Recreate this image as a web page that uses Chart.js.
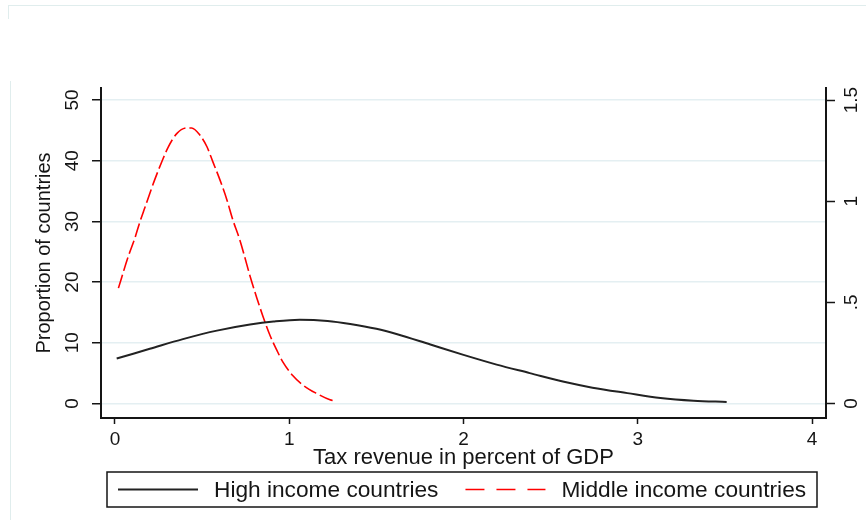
<!DOCTYPE html>
<html>
<head>
<meta charset="utf-8">
<script src="https://cdn.jsdelivr.net/npm/chart.js@4.4.1/dist/chart.umd.min.js"></script>
<style>
  body { margin: 0; background: #fff; }
  #wrap { position: relative; width: 866px; height: 520px; }
  #graph { position: absolute; left: 0; top: 0; }
  .frame { position: absolute; background: #e0eded; }
</style>
</head>
<body>
<div id="wrap">
  <div class="frame" style="left:8px;top:5px;width:858px;height:1px"></div>
  <div class="frame" style="left:8px;top:5px;width:1px;height:14px"></div>
  <div class="frame" style="left:10px;top:81px;width:1px;height:439px"></div>
  <canvas id="graph" width="866" height="520"></canvas>
</div>
<script>
const graph = document.getElementById("graph");
const ctx = graph.getContext("2d");

// kernel density curves
const xHigh = [0.01, 0.2, 0.39, 0.585, 0.775, 0.91, 1.06, 1.22, 1.35, 1.5, 1.62, 1.81, 2.0, 2.19, 2.38, 2.57, 2.74, 2.94, 3.13, 3.32, 3.51];
const yHigh = [7.4, 9.0, 10.6, 12.0, 13.0, 13.5, 13.8, 13.6, 13.1, 12.3, 11.4, 9.7, 8.0, 6.4, 5.0, 3.6, 2.6, 1.7, 0.9, 0.45, 0.25];

const xMiddle = [0.02, 0.075, 0.115, 0.143, 0.172, 0.2, 0.23, 0.27, 0.305, 0.356, 0.413, 0.44, 0.488, 0.528, 0.562, 0.603, 0.643, 0.677, 0.717, 0.746, 0.775, 0.815, 0.85, 0.89, 0.93, 0.964, 1.02, 1.08, 1.16, 1.234, 1.27];
const yMiddle = [19.0, 24.1, 27.3, 29.9, 32.3, 34.6, 37.0, 39.9, 42.2, 44.5, 45.4, 45.4, 44.2, 42.3, 39.8, 36.8, 33.5, 30.2, 26.9, 24.0, 21.0, 17.3, 14.3, 11.2, 8.7, 6.8, 4.6, 3.0, 1.6, 0.6, 0.35];

const seriesNames = ["High income countries", "Middle income countries"];

const xTicks = [0, 1, 2, 3, 4];
const leftTicks = [0, 10, 20, 30, 40, 50];
const rightTicks = [0, 0.5, 1, 1.5];
const rightTickLabels = ["0", ".5", "1", "1.5"];

const FONT = '"Liberation Sans", Arial, sans-serif';
const INK = "#151515";

const toPoints = (xs, ys) => xs.map((x, i) => ({ x: x, y: ys[i] }));
const fixTicks = (values) => (scale) => {
  scale.ticks = values.map((v) => ({ value: v }));
};

// y tick labels are rotated in the original, so draw them by hand
const rotatedTicks = {
  id: "rotatedTicks",
  afterDraw(chart) {
    const c = chart.ctx;
    const sets = [
      [chart.scales.y, leftTicks, leftTicks.map(String), chart.chartArea.left - 28],
      [chart.scales.y2, rightTicks, rightTickLabels, chart.chartArea.right + 26],
    ];
    c.save();
    c.font = "19px " + FONT;
    c.fillStyle = INK;
    c.textAlign = "center";
    c.textBaseline = "middle";
    sets.forEach(([scale, values, labels, x]) => {
      values.forEach((v, i) => {
        c.save();
        c.translate(x, scale.getPixelForValue(v));
        c.rotate(-Math.PI / 2);
        c.fillText(labels[i], 0, 0);
        c.restore();
      });
    });
    c.restore();
  },
};

// legend in a box under the axis title
const boxedLegend = {
  id: "boxedLegend",
  afterDraw(chart) {
    const c = chart.ctx;
    const area = chart.chartArea;
    const left = area.left + 6;
    const right = area.right - 9;
    const top = chart.height - 48;
    const h = 35;
    const mid = top + h / 2;
    c.save();
    c.strokeStyle = INK;
    c.lineWidth = 1.5;
    c.strokeRect(left, top, right - left, h);
    c.font = "22.7px " + FONT;
    c.textBaseline = "middle";
    c.fillStyle = INK;
    let x = left + 11;
    chart.data.datasets.forEach((ds) => {
      c.strokeStyle = ds.borderColor;
      c.lineWidth = ds.borderWidth;
      c.setLineDash(ds.legendDash || []);
      c.beginPath();
      c.moveTo(x, mid);
      c.lineTo(x + 80, mid);
      c.stroke();
      c.setLineDash([]);
      c.fillText(ds.label, x + 96, mid + 1);
      x += 96 + c.measureText(ds.label).width + 27;
    });
    c.restore();
  },
};

const chart = new Chart(ctx, {
  type: "line",
  data: {
    datasets: [
      {
        label: seriesNames[0],
        data: toPoints(xHigh, yHigh),
        borderColor: "#222222",
        borderWidth: 2,
        pointRadius: 0,
        cubicInterpolationMode: "monotone",
        yAxisID: "y",
      },
      {
        label: seriesNames[1],
        data: toPoints(xMiddle, yMiddle),
        borderColor: "#ff0000",
        borderWidth: 1.6,
        borderDash: [14, 4],
        legendDash: [19, 12],
        pointRadius: 0,
        cubicInterpolationMode: "monotone",
        yAxisID: "y",
      },
    ],
  },
  options: {
    responsive: false,
    animation: false,
    layout: { padding: { top: 88, left: 0, right: 0, bottom: 0 } },
    plugins: {
      legend: { display: false },
      tooltip: { enabled: false },
    },
    scales: {
      x: {
        type: "linear",
        min: -0.08,
        max: 4.08,
        afterBuildTicks: fixTicks(xTicks),
        afterFit: (scale) => {
          scale.height = 102;
        },
        grid: { drawOnChartArea: false, tickLength: 6, tickColor: INK, tickWidth: 1.5 },
        border: { color: INK, width: 2 },
        ticks: { color: INK, padding: 4, font: { family: FONT, size: 19 } },
        title: {
          display: true,
          text: "Tax revenue in percent of GDP",
          color: INK,
          font: { family: FONT, size: 22 },
          padding: { top: 0, bottom: 49 },
        },
      },
      y: {
        position: "left",
        min: -2.4,
        max: 51.98,
        afterBuildTicks: fixTicks(leftTicks),
        afterFit: (scale) => {
          scale.width = 101;
        },
        grid: { color: "#e4eff2", lineWidth: 1.5, tickLength: 9, tickColor: INK, tickWidth: 1.5 },
        border: { color: INK, width: 2 },
        ticks: { display: false },
        title: {
          display: true,
          text: "Proportion of countries",
          color: INK,
          font: { family: FONT, size: 20 },
          padding: { top: 32, bottom: 0 },
        },
      },
      y2: {
        type: "linear",
        position: "right",
        min: -0.072,
        max: 1.56,
        afterBuildTicks: fixTicks(rightTicks),
        afterFit: (scale) => {
          scale.width = 40;
        },
        grid: { drawOnChartArea: false, tickLength: 9, tickColor: INK, tickWidth: 1.5 },
        border: { color: INK, width: 2 },
        ticks: { display: false },
      },
    },
  },
  plugins: [rotatedTicks, boxedLegend],
});
</script>
</body>
</html>
